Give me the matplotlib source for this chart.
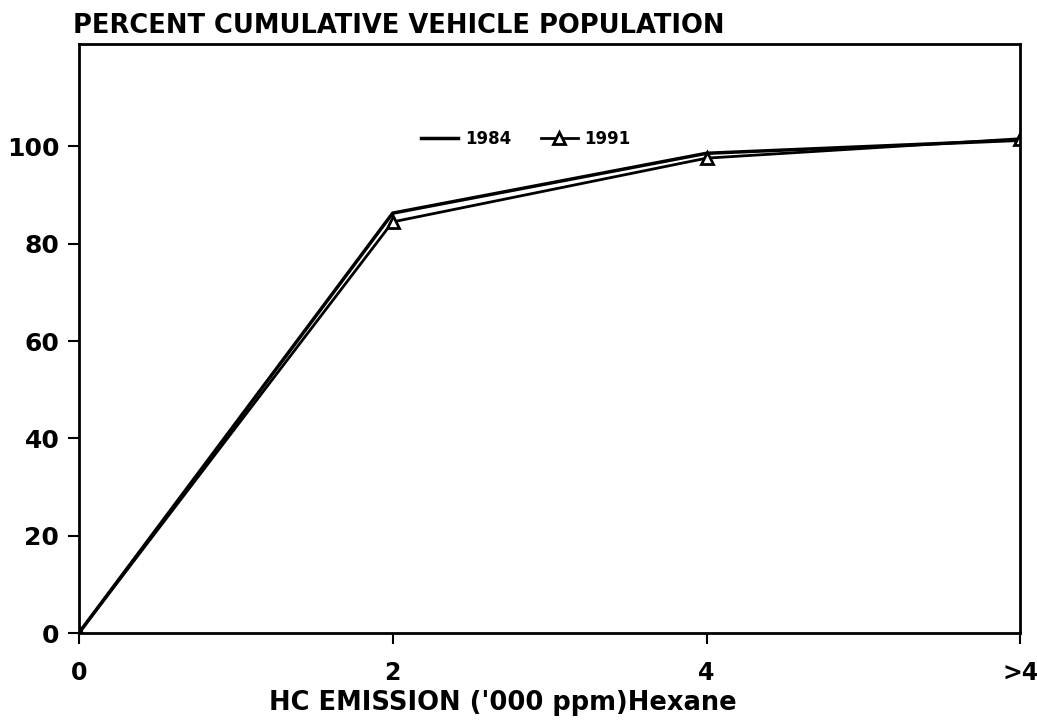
import numpy as np
import matplotlib
matplotlib.use("Agg")
import matplotlib.pyplot as plt

# x categories and cumulative percentages
categories = ["0", "2", "4", ">4"]
pct_1984 = [0, 86.3, 98.6, 101.3]
pct_1991 = [0, 84.5, 97.6, 101.6]
y_ticks = [0, 20, 40, 60, 80, 100]

plt.rcParams['font.family'] = ['DejaVu Sans']
plt.rcParams['font.weight'] = 'bold'

fig = plt.figure(figsize=(10.37, 7.26), dpi=100)
ax = fig.add_axes([0.076, 0.128, 0.908, 0.811])

x = np.arange(len(categories))
ax.plot(x, pct_1984, color='black', lw=2.5, label='1984')
ax.plot(x, pct_1991, color='black', lw=2.0, marker='^', ms=9,
        mfc='white', mec='black', mew=2, label='1991')

ax.set_xlim(0, len(categories) - 1)
ax.set_ylim(0, 121)
ax.set_xticks(x)
ax.set_xticklabels(categories, fontsize=17, fontweight='bold')
ax.set_yticks(y_ticks)
ax.set_yticklabels([str(v) for v in y_ticks], fontsize=18, fontweight='bold')
ax.tick_params(axis='x', length=8, width=1.5, pad=12)
ax.tick_params(axis='y', length=8, width=1.5, pad=6)

for s in ax.spines.values():
    s.set_linewidth(2)

ax.set_xlabel("HC EMISSION ('000 ppm)Hexane", fontsize=18.5, fontweight='bold',
              labelpad=4, x=0.45)
fig.text(0.07, 0.946, "PERCENT CUMULATIVE VEHICLE POPULATION", fontsize=18.5,
         fontweight='bold', ha='left', va='bottom')

ax.legend(loc='upper center', bbox_to_anchor=(0.475, 0.88), ncol=2, frameon=False,
          fontsize=12, handlelength=2.2, columnspacing=1.8, handletextpad=0.4)

fig.savefig("out.png", dpi=100)
